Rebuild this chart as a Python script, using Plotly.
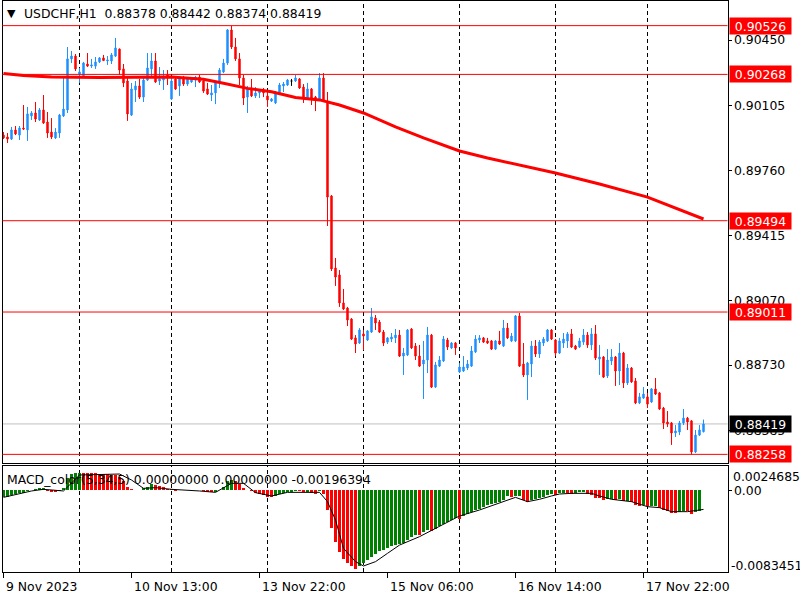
import plotly.graph_objects as go

# ---------------- data ----------------
open_ = [.89947,.89937,.89926,.89974,.89947,.89984,.89974,.90048,.90064,.90027,
.90080,.90016,.89963,.89932,.89958,.90048,.90080,.90350,.90365,.90270,
.90254,.90323,.90312,.90312,.90334,.90355,.90339,.90339,.90365,.90402,
.90297,.90233,.90053,.90186,.90207,.90148,.90238,.90297,.90339,.90233,
.90238,.90265,.90138,.90244,.90207,.90244,.90217,.90228,.90238,.90254,
.90233,.90191,.90159,.90170,.90223,.90281,.90328,.90503,.90413,.90350,
.90249,.90148,.90196,.90154,.90170,.90186,.90154,.90127,.90117,.90164,
.90207,.90212,.90233,.90233,.90244,.90201,.90143,.90191,.90148,.90133,
.90249,.90127,.89625,.89244,.89207,.89059,.89032,.88974,.88874,.88847,
.88895,.88863,.88905,.88979,.88958,.88905,.88852,.88868,.88874,.88889,
.88778,.88784,.88921,.88831,.88778,.88736,.88757,.88889,.88614,.88725,
.88752,.88863,.88821,.88847,.88694,.88699,.88715,.88725,.88800,.88863,
.88874,.88858,.88858,.88815,.88858,.88831,.88926,.88858,.88858,.88990,
.88736,.88678,.88736,.88831,.88789,.88847,.88858,.88916,.88863,.88794,
.88847,.88858,.88895,.88831,.88826,.88852,.88889,.88837,.88895,.88762,
.88773,.88673,.88752,.88773,.88699,.88794,.88636,.88715,.88646,.88530,
.88556,.88562,.88535,.88604,.88583,.88503,.88429,.88424,.88371,.88376,
.88424,.88450,.88435,.88271,.88360,.88378]
high = [.89963,.89958,.89990,.89995,.89995,.90106,.90096,.90074,.90122,.90090,
.90159,.90069,.90037,.89984,.90059,.90249,.90413,.90392,.90376,.90302,
.90334,.90381,.90350,.90360,.90360,.90371,.90365,.90381,.90461,.90405,
.90323,.90254,.90223,.90233,.90244,.90249,.90381,.90381,.90381,.90307,
.90291,.90291,.90249,.90254,.90254,.90260,.90254,.90254,.90260,.90265,
.90238,.90223,.90212,.90228,.90302,.90350,.90508,.90526,.90461,.90381,
.90265,.90207,.90244,.90201,.90191,.90196,.90175,.90143,.90180,.90223,
.90228,.90244,.90244,.90265,.90249,.90217,.90223,.90196,.90154,.90275,
.90275,.90175,.89630,.89297,.89233,.89133,.89038,.88979,.88889,.88926,
.88916,.88916,.89032,.88995,.88969,.88916,.88879,.88900,.88921,.88916,
.88821,.88921,.88926,.88847,.88837,.88858,.88932,.88895,.88747,.88778,
.88884,.88874,.88852,.88852,.88741,.88778,.88757,.88831,.88889,.88889,
.88879,.88874,.88863,.88863,.88911,.88969,.88953,.88900,.88995,.89006,
.88847,.88747,.88858,.88863,.88863,.88879,.88921,.88921,.88868,.88874,
.88900,.88905,.88921,.88837,.88874,.88921,.88905,.88926,.88942,.88837,
.88778,.88815,.88815,.88778,.88847,.88800,.88736,.88720,.88662,.88583,
.88614,.88583,.88609,.88662,.88588,.88509,.88487,.88429,.88413,.88435,
.88498,.88456,.88440,.88387,.88413,.88442]
low = [.89926,.89905,.89921,.89947,.89921,.89974,.89916,.90027,.90016,.90022,
.90006,.89932,.89926,.89926,.89932,.90043,.90064,.90328,.90286,.90223,
.90249,.90307,.90302,.90297,.90328,.90339,.90318,.90323,.90360,.90265,
.90201,.90022,.90048,.90122,.90138,.90122,.90233,.90254,.90223,.90212,
.90186,.90212,.90133,.90186,.90154,.90207,.90207,.90223,.90201,.90223,
.90170,.90159,.90127,.90111,.90196,.90275,.90318,.90402,.90339,.90212,
.90106,.90064,.90148,.90143,.90143,.90148,.90096,.90122,.90111,.90159,
.90175,.90207,.90207,.90228,.90191,.90117,.90133,.90106,.90074,.90127,
.90122,.89466,.89228,.89149,.89038,.89022,.88937,.88863,.88794,.88842,
.88810,.88858,.88900,.88916,.88900,.88831,.88842,.88852,.88847,.88773,
.88678,.88778,.88815,.88757,.88720,.88551,.88688,.88609,.88609,.88720,
.88747,.88810,.88815,.88784,.88688,.88694,.88704,.88720,.88794,.88847,
.88847,.88842,.88810,.88810,.88837,.88826,.88868,.88852,.88852,.88720,
.88667,.88546,.88667,.88773,.88768,.88831,.88852,.88863,.88778,.88789,
.88821,.88821,.88821,.88810,.88821,.88837,.88821,.88810,.88757,.88678,
.88662,.88662,.88731,.88620,.88625,.88609,.88625,.88636,.88524,.88524,
.88551,.88503,.88530,.88572,.88493,.88392,.88403,.88308,.88350,.88360,
.88413,.88387,.88258,.88265,.88355,.88374]
close = [.89932,.89926,.89974,.89953,.89984,.89979,.90059,.90064,.90032,.90080,
.90011,.89958,.89937,.89963,.90053,.90085,.90350,.90365,.90297,.90281,
.90328,.90312,.90318,.90334,.90355,.90341,.90344,.90371,.90408,.90291,
.90223,.90059,.90191,.90207,.90148,.90238,.90302,.90339,.90228,.90244,
.90254,.90254,.90233,.90191,.90249,.90217,.90244,.90244,.90254,.90228,
.90180,.90164,.90170,.90223,.90291,.90328,.90503,.90413,.90350,.90249,
.90143,.90191,.90154,.90170,.90186,.90170,.90133,.90138,.90164,.90212,
.90217,.90238,.90233,.90249,.90196,.90148,.90191,.90143,.90133,.90249,
.90127,.89619,.89239,.89196,.89059,.89027,.88969,.88868,.88842,.88916,
.88884,.88911,.88985,.88953,.88905,.88847,.88874,.88879,.88889,.88778,
.88794,.88916,.88821,.88778,.88725,.88757,.88889,.88614,.88731,.88757,
.88868,.88826,.88847,.88821,.88720,.88720,.88736,.88805,.88868,.88874,
.88852,.88847,.88815,.88858,.88842,.88926,.88874,.88884,.88990,.88725,
.88678,.88741,.88831,.88789,.88852,.88868,.88916,.88868,.88794,.88858,
.88868,.88895,.88826,.88815,.88858,.88889,.88837,.88895,.88768,.88773,
.88667,.88757,.88773,.88699,.88794,.88636,.88715,.88641,.88530,.88562,
.88577,.88524,.88604,.88577,.88498,.88424,.88419,.88371,.88382,.88424,
.88450,.88429,.88271,.88360,.88387,.88419]

# moving average
ma_idx = [0, 5, 12, 24, 42, 50, 55, 61, 67, 73, 79, 84, 90, 98, 105, 114, 121, 129, 138, 149, 161, 175]
ma_val = [.90273, .90262, .90254, .90251, .90254, .90242, .90221, .90194, .90176, .90146, .90133,
          .90106, .90064, .89990, .89932, .89863, .89826, .89789, .89746, .89688, .89619, .89503]

# MACD_color(5,34,5) histogram (bars 0..174) and signal line
macd_hist = [-0.00072,-0.00066,-0.00050,-0.00040,-0.00032,-0.00025,-0.00010,0.00005,0.00010,0.00018,
0.00020,-0.00005,-0.00015,-0.00020,-0.00005,0.00020,0.00120,0.00170,0.00178,0.00180,
0.00178,0.00176,0.00174,0.00172,0.00170,0.00168,0.00165,0.00160,0.00158,0.00130,
0.00090,0.00030,0.00010,0.00005,0.00002,0.00020,0.00035,0.00060,0.00050,0.00040,
0.00030,0.00010,0.00008,-0.00005,-0.00002,-0.00003,0.00000,0.00002,0.00003,0.00001,
-0.00010,-0.00020,-0.00022,-0.00015,0.00005,0.00030,0.00090,0.00100,0.00090,0.00060,
0.00020,0.00005,-0.00010,-0.00025,-0.00040,-0.00050,-0.00065,-0.00070,-0.00060,-0.00040,
-0.00030,-0.00020,-0.00015,-0.00005,-0.00008,-0.00020,-0.00018,-0.00025,-0.00040,-0.00010,
-0.00035,-0.00200,-0.00390,-0.00525,-0.00627,-0.00705,-0.00740,-0.00773,-0.00800,-0.00775,
-0.00745,-0.00715,-0.00680,-0.00650,-0.00625,-0.00610,-0.00590,-0.00570,-0.00555,-0.00545,
-0.00540,-0.00505,-0.00478,-0.00455,-0.00462,-0.00430,-0.00410,-0.00418,-0.00392,-0.00370,
-0.00340,-0.00322,-0.00302,-0.00282,-0.00290,-0.00262,-0.00245,-0.00225,-0.00205,-0.00188,
-0.00172,-0.00156,-0.00142,-0.00128,-0.00116,-0.00100,-0.00060,-0.00066,-0.00062,-0.00058,
-0.00105,-0.00118,-0.00095,-0.00088,-0.00078,-0.00068,-0.00052,-0.00040,-0.00050,-0.00030,
-0.00025,-0.00030,-0.00034,-0.00026,-0.00020,-0.00015,-0.00035,-0.00045,-0.00075,-0.00082,
-0.00095,-0.00090,-0.00086,-0.00100,-0.00094,-0.00112,-0.00106,-0.00116,-0.00150,-0.00160,
-0.00156,-0.00165,-0.00160,-0.00157,-0.00180,-0.00200,-0.00210,-0.00230,-0.00236,-0.00222,
-0.00210,-0.00216,-0.00240,-0.00226,-0.00212]
sig_idx = [0,7,10,15,19,29,32,35,38,42,49,53,57,60,63,67,71,79,81,83,85,88,90,93,96,99,104,109,
           114,119,124,128,131,134,137,139,142,147,149,152,157,161,164,167,171,175]
sig_val = [-0.00073,-0.00008,0.00009,-0.00008,0.00155,0.00165,0.00104,0.00019,0.00026,0.00009,
           -0.00008,-0.00022,0.00070,0.00070,-0.00025,-0.00059,-0.00022,-0.00022,-0.00117,-0.00304,
           -0.00593,-0.00729,-0.00773,-0.00729,-0.00644,-0.00560,-0.00474,-0.00372,-0.00263,-0.00202,
           -0.00134,-0.00073,-0.00117,-0.00093,-0.00059,-0.00039,-0.00032,-0.00032,-0.00059,-0.00093,
           -0.00117,-0.00168,-0.00178,-0.00219,-0.00219,-0.00196]
macd_max, macd_min = 0.0024685, -0.0083451

price_ticks = [0.90450, 0.90105, 0.89760, 0.89415, 0.89070, 0.88730, 0.88385]
levels = [0.90526, 0.90268, 0.89494, 0.89011, 0.88258]
bid = 0.88419
separators = [19, 42, 66, 90, 114, 138, 161]
xlabel_idx = [0, 32, 64, 96, 128, 160]
xlabel_text = ["9 Nov 2023", "10 Nov 13:00", "13 Nov 22:00", "15 Nov 06:00", "16 Nov 14:00", "17 Nov 22:00"]
title_text = "USDCHF,H1\u00a0\u00a00.88378 0.88442 0.88374 0.88419"
macd_text = "MACD_color(5,34,5) 0.00000000 0.00000000 -0.00196394"

# ---------------- layout helpers ----------------
W, H = 800, 600
FONT = "DejaVu Sans"
FS = 12.4
def fx(p): return p / W
def fy(p): return 1 - p / H

x_dom = [fx(2.5), fx(727.5)]
main_dom = [fy(463), fy(1)]
macd_dom = [fy(572), fy(466)]
xr = [-0.25, 181.0]
yr = [0.882123, 0.906563]

n = len(open_)
idx = list(range(n))
doji = [i for i in idx if open_[i] == close[i]]
norm = [i for i in idx if open_[i] != close[i]]

fig = go.Figure()
fig.add_trace(go.Candlestick(
    x=norm, open=[open_[i] for i in norm], high=[high[i] for i in norm],
    low=[low[i] for i in norm], close=[close[i] for i in norm],
    increasing=dict(line=dict(color="#1E90FF", width=1), fillcolor="#1E90FF"),
    decreasing=dict(line=dict(color="#FF0000", width=1), fillcolor="#FF0000"),
    whiskerwidth=0, showlegend=False, xaxis="x", yaxis="y"))
fig.add_trace(go.Candlestick(
    x=doji, open=[open_[i] for i in doji], high=[high[i] for i in doji],
    low=[low[i] for i in doji], close=[close[i] for i in doji],
    increasing=dict(line=dict(color="black", width=1), fillcolor="black"),
    decreasing=dict(line=dict(color="black", width=1), fillcolor="black"),
    whiskerwidth=0, showlegend=False, xaxis="x", yaxis="y"))
fig.add_trace(go.Scatter(x=ma_idx, y=ma_val, mode="lines",
                         line=dict(color="#FF0000", width=3), showlegend=False,
                         xaxis="x", yaxis="y"))

hcol = ["#008000" if (i == 0 or macd_hist[i] >= macd_hist[i - 1]) else "#FF0000"
        for i in range(len(macd_hist))]
fig.add_trace(go.Bar(x=list(range(len(macd_hist))), y=macd_hist, marker=dict(color=hcol, line=dict(width=0)),
                     width=0.72, showlegend=False, xaxis="x2", yaxis="y2"))
fig.add_trace(go.Scatter(x=sig_idx, y=sig_val, mode="lines", line=dict(color="black", width=1),
                         showlegend=False, xaxis="x2", yaxis="y2"))

shapes = []
for s in separators:
    for xa, ya in (("x", "y domain"), ("x2", "y2 domain")):
        shapes.append(dict(type="line", xref=xa, yref=ya, x0=s, x1=s, y0=0, y1=1,
                           line=dict(color="black", width=1, dash="4px,3px"), layer="below"))
for lv in levels:
    shapes.append(dict(type="line", xref="x domain", yref="y", x0=0, x1=1, y0=lv, y1=lv,
                       line=dict(color="#FF0000", width=1), layer="above"))
shapes.append(dict(type="line", xref="x domain", yref="y", x0=0, x1=1, y0=bid, y1=bid,
                   line=dict(color="#C0C0C0", width=1), layer="below"))

ann = []
for lv in levels:
    ann.append(dict(xref="paper", yref="y", x=fx(729), y=lv, xanchor="left", yanchor="middle",
                    text=f"{lv:.5f}", showarrow=False, bgcolor="#FF0000", width=61, height=16,
                    borderpad=0, font=dict(family=FONT, size=FS, color="white")))
ann.append(dict(xref="paper", yref="y", x=fx(729), y=bid, xanchor="left", yanchor="middle",
                text=f"{bid:.5f}", showarrow=False, bgcolor="black", width=61, height=16,
                borderpad=0, font=dict(family=FONT, size=FS, color="white")))
ann.append(dict(xref="paper", yref="paper", x=fx(5), y=fy(13), xanchor="left", yanchor="middle",
                text="\u25bc", showarrow=False, font=dict(family=FONT, size=11, color="black")))
ann.append(dict(xref="paper", yref="paper", x=fx(22), y=fy(13), xanchor="left", yanchor="middle",
                text=title_text, showarrow=False, font=dict(family=FONT, size=FS, color="black")))
ann.append(dict(xref="paper", yref="paper", x=fx(5), y=fy(479), xanchor="left", yanchor="middle",
                text=macd_text, showarrow=False, font=dict(family=FONT, size=FS, color="black")))
ann.append(dict(xref="paper", yref="paper", x=fx(731), y=fy(476), xanchor="left", yanchor="middle",
                text=f"{macd_max:.7f}", showarrow=False, font=dict(family=FONT, size=FS, color="black")))
ann.append(dict(xref="paper", yref="paper", x=fx(729), y=fy(565), xanchor="left", yanchor="middle",
                text=f"{macd_min:.7f}", showarrow=False, font=dict(family=FONT, size=FS, color="black")))
for xi, t in zip(xlabel_idx, xlabel_text):
    ann.append(dict(xref="x2", yref="paper", x=xi, y=fy(586), xanchor="left", yanchor="middle",
                    text=t, showarrow=False, font=dict(family=FONT, size=FS, color="black")))

axis_common = dict(showgrid=False, zeroline=False, showline=True, linecolor="black", linewidth=1,
                   mirror=True)
fig.update_layout(
    width=W, height=H, margin=dict(l=0, r=0, t=0, b=0),
    paper_bgcolor="white", plot_bgcolor="white",
    font=dict(family=FONT, size=FS, color="black"),
    boxgap=0.5, bargap=0, showlegend=False, hovermode=False,
    xaxis=dict(domain=x_dom, range=xr, anchor="y", showticklabels=False, ticks="",
               rangeslider=dict(visible=False), **axis_common),
    yaxis=dict(domain=main_dom, range=yr, anchor="x", side="right", ticks="outside", ticklen=3,
               tickcolor="black", tickvals=price_ticks, ticktext=[f"{v:.5f}" for v in price_ticks],
               tickfont=dict(family=FONT, size=FS, color="black"), **axis_common),
    xaxis2=dict(domain=x_dom, range=xr, anchor="y2", matches="x", showticklabels=False,
                ticks="outside", ticklen=5, tickcolor="black", tickvals=xlabel_idx,
                rangeslider=dict(visible=False), **axis_common),
    yaxis2=dict(domain=macd_dom, range=[macd_min, macd_max], anchor="x2", side="right",
                ticks="outside", ticklen=3, tickcolor="black", tickvals=[0], ticktext=["0.00"],
                tickfont=dict(family=FONT, size=FS, color="black"), **axis_common),
    shapes=shapes, annotations=ann,
)

fig.write_html("out.html", config={"displayModeBar": False, "staticPlot": True},
               post_script="document.body.style.margin='0px';document.body.style.overflow='hidden';")
